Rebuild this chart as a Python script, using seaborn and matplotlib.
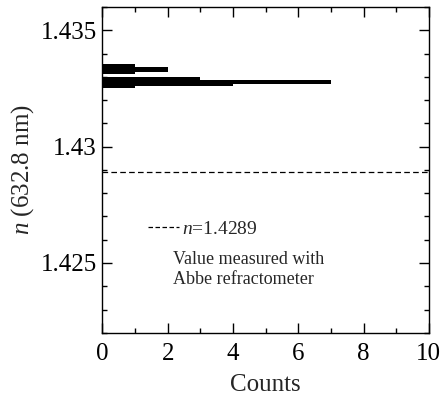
import numpy as np
import matplotlib
matplotlib.use("Agg")
import matplotlib.pyplot as plt
import seaborn as sns
from matplotlib.lines import Line2D
from matplotlib.ticker import MultipleLocator, FormatStrFormatter

# ---- data ----
bar_low = [1.4331, 1.4332, 1.4325, 1.4326, 1.4326, 1.43267]
bar_high = [1.43353, 1.43341, 1.4330, 1.4330, 1.43285, 1.43288]
bar_counts = [1, 2, 1, 3, 4, 7]
abbe_value = 1.4289
legend_label = "$n$=1.4289"
note_text = "Value measured with\nAbbe refractometer"
x_label = "Counts"
y_label = "$n$ (632.8 nm)"
x_ticks = [0, 2, 4, 6, 8, 10]
y_ticks = [1.425, 1.43, 1.435]

sns.set_style("ticks")
plt.rcParams["font.family"] = ["Liberation Serif", "DejaVu Serif"]
plt.rcParams["mathtext.fontset"] = "custom"
plt.rcParams["mathtext.rm"] = "Liberation Serif"
plt.rcParams["mathtext.it"] = "Liberation Serif:italic"

fig = plt.figure(figsize=(4.43, 4.0), dpi=100)
ax = fig.add_axes([0.231, 0.168, 0.737, 0.8145])

lo = np.array(bar_low)
hi = np.array(bar_high)
ax.barh((lo + hi) / 2, bar_counts, height=hi - lo, color="black",
        edgecolor="none", align="center")

ax.axhline(abbe_value, color="black", lw=0.9, dashes=(4.5, 2.6))

ax.set_xlim(0, 10)
ax.set_ylim(1.422, 1.436)
ax.set_xticks(x_ticks)
ax.set_yticks(y_ticks)
ax.xaxis.set_minor_locator(MultipleLocator(1))
ax.yaxis.set_minor_locator(MultipleLocator(0.001))
ax.yaxis.set_major_formatter(FormatStrFormatter("%g"))
ax.tick_params(which="both", direction="in", top=True, right=True, width=1,
               labelsize=18, colors="black")
ax.tick_params(which="major", length=7)
ax.tick_params(which="minor", length=3.6)
ax.tick_params(axis="x", pad=7)
ax.tick_params(axis="y", pad=4)
for s in ax.spines.values():
    s.set_linewidth(1)
    s.set_color("black")

ax.set_xlabel(x_label, fontsize=18, labelpad=7)
ax.set_ylabel(y_label, fontsize=18, labelpad=3)

handle = Line2D([], [], color="black", lw=0.9, dashes=(3.6, 2.0))
ax.legend([handle], [legend_label], loc="upper left", bbox_to_anchor=(0.115, 0.37),
          frameon=False, fontsize=14, handlelength=1.6, handletextpad=0.15,
          borderaxespad=0)
ax.text(0.215, 0.25, note_text, transform=ax.transAxes, fontsize=13, va="top",
        ha="left", linespacing=1.2)

fig.savefig("out.png", dpi=100)
